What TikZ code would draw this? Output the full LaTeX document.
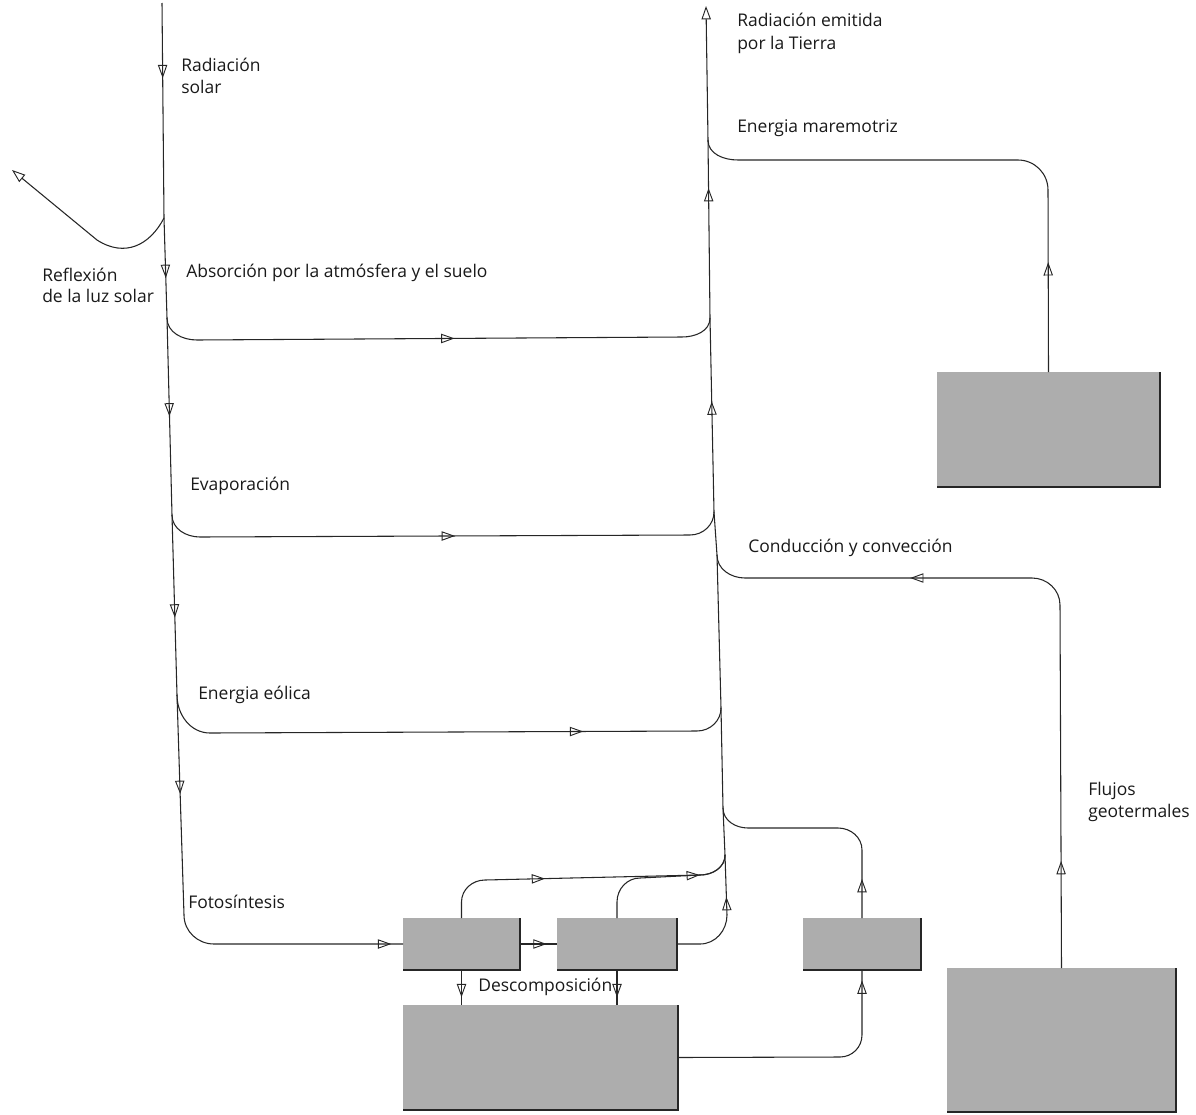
\documentclass[tikz,border=0pt]{standalone}
\usepackage{fontspec}
\setmainfont{Open Sans}
\usetikzlibrary{arrows.meta,decorations.markings}
\tikzset{
  oa/.tip={Triangle[open,length=10pt,width=7pt,line width=0.7pt]},
  flow/.style={draw=black!85, line width=0.8pt},
  am/.style={postaction={decorate}, decoration={markings, mark=at position #1 with {\arrow{oa}}}},
  box/.style={fill=black!32, draw=none, inner sep=0pt, outer sep=0pt},
  boxedge/.style={draw=black!85, line width=1.2pt},
  lbl/.style={anchor=base west, inner sep=0pt, font=\fontsize{13.1}{15}\selectfont, text=black!90},
}
\begin{document}
\begin{tikzpicture}[x=0.75pt, y=-0.75pt]
\useasboundingbox (0,0) rectangle (1196,1114);

% boxes
\node[box, minimum width=87.75pt, minimum height=39pt] (plantas) at (461.5,944) {};
\node[box, minimum width=90pt, minimum height=39pt] (animales) at (617,944) {};
\node[box, minimum width=88.5pt, minimum height=39pt] (small) at (862,944) {};
\node[box, minimum width=206.25pt, minimum height=78.75pt] (materia) at (540.5,1057.5) {};
\node[box, minimum width=167.25pt, minimum height=86.25pt] (marea) at (1048.5,429.5) {};
\node[box, minimum width=171.75pt, minimum height=108pt] (interior) at (1061.5,1040) {};
\foreach \b in {plantas,animales,small,materia,marea,interior}
  \draw[boxedge] (\b.south west) -- (\b.south east) -- (\b.north east);

% coordinates
\coordinate (S0) at (162,3);
\coordinate (L1) at (164,218);
\coordinate (L2) at (167,318);
\coordinate (L3) at (172,515);
\coordinate (L4) at (177,695);
\coordinate (L5) at (184,915);
\coordinate (R) at (12,170);
\coordinate (M0) at (706,6);
\coordinate (Ma) at (708,140);
\coordinate (Mb) at (710,318);
\coordinate (Mc) at (714,512);
\coordinate (Md) at (717,555);
\coordinate (Me) at (721,708);
\coordinate (Mf) at (723,808);
\coordinate (Mg) at (725,855);
\coordinate (Mh) at (727,915);

% left (solar) line
\draw[flow, am=0.35] (S0) -- (L1);
\draw[flow, am=0.6] (L1) -- (L2);
\draw[flow, am=0.5] (L2) -- (L3);
\draw[flow, am=0.57] (L3) -- (L4);
\draw[flow, am=0.45] (L4) -- (L5);

% reflection
\draw[flow, -{oa}] (L1) .. controls (150,245) and (125,258) .. (97,240) -- (R);

% branches to the middle line
\draw[flow, am=0.53] (L2) to[out=-90,in=180] (197,340) -- (682,337) to[out=0,in=-90] (Mb);
\draw[flow, am=0.52] (L3) to[out=-90,in=180] (200,537) -- (690,535) to[out=0,in=-90] (Mc);
\draw[flow, am=0.74] (L4) to[out=-90,in=180] (210,733) -- (697,731) to[out=0,in=-90] (Me);
\draw[flow, am=0.95] (L5) to[out=-90,in=180] (214,944) -- (plantas.west);

% middle (emitted) line
\draw[flow, -{oa}] (Ma) -- (M0);
\draw[flow, am=0.73] (Mb) -- (Ma);
\draw[flow, am=0.57] (Mc) -- (Mb);
\draw[flow] (Md) -- (Mc);
\draw[flow] (Me) -- (Md);
\draw[flow] (Mf) -- (Me);
\draw[flow] (Mg) -- (Mf);
\draw[flow, am=0.3] (Mh) -- (Mg);

% tidal
\draw[flow, am=0.2] (marea.north) -- (1048,190) to[out=90,in=0] (1018,160) -- (738,160) to[out=180,in=-90] (Ma);

% geothermal / conduction
\draw[flow, postaction={decorate}, decoration={markings,
   mark=at position 0.146 with {\arrow{oa}},
   mark=at position 0.72 with {\arrow{oa}}}]
  (interior.north) -- (1060,605) to[out=90,in=0] (1032,578) -- (745,578) to[out=180,in=-90] (Md);

% small box
\draw[flow, am=0.17] (small.north) -- (862,850) to[out=90,in=0] (838,828) -- (748,828) to[out=180,in=-90] (Mf);
\draw[flow, am=0.96] (materia.east) -- (840,1057) to[out=0,in=-90] (862,1035) -- (small.south);

% plants / animals
\draw[flow, am=0.37] (plantas.north) -- (461.5,902) to[out=90,in=180] (485,880) -- (700,875) to[out=0,in=-90] (Mg);
\draw[flow, am=0.76] (animales.north) -- (617,902) to[out=90,in=180] (640,878) -- (700,875) to[out=0,in=-90] (Mg);
\draw[flow, am=0.72] (plantas.east) -- (animales.west);
\draw[flow] (animales.east) -- (700,944) to[out=0,in=-90] (Mh);
\draw[flow, am=0.78] (plantas.south) -- (plantas.south |- materia.north);
\draw[flow, am=0.78] (animales.south) -- (animales.south |- materia.north);

% labels
\node[lbl] (t1) at (181,71) {Radiación};
\node[lbl] (t1b) at (181,93) {solar};
\node[lbl] (t2) at (737,26) {Radiación emitida};
\node[lbl] (t2b) at (737,49) {por la Tierra};
\node[lbl] (t3) at (737,132) {Energia maremotriz};
\node[lbl] (t4) at (42,281) {Reflexión};
\node[lbl] (t4b) at (42,302) {de la luz solar};
\node[lbl] (t5) at (186,277) {Absorción por la atmósfera y el suelo};
\node[lbl] (t6) at (190,490) {Evaporación};
\node[lbl] (t7) at (748,552) {Conducción y convección};
\node[lbl] (t8) at (198,699) {Energia eólica};
\node[lbl] (t9) at (1088,795) {Flujos};
\node[lbl] (t9b) at (1088,817) {geotermales};
\node[lbl] (t10) at (188,908) {Fotosíntesis};
\node[lbl] (t11) at (478,991) {Descomposición};
\end{tikzpicture}
\end{document}
